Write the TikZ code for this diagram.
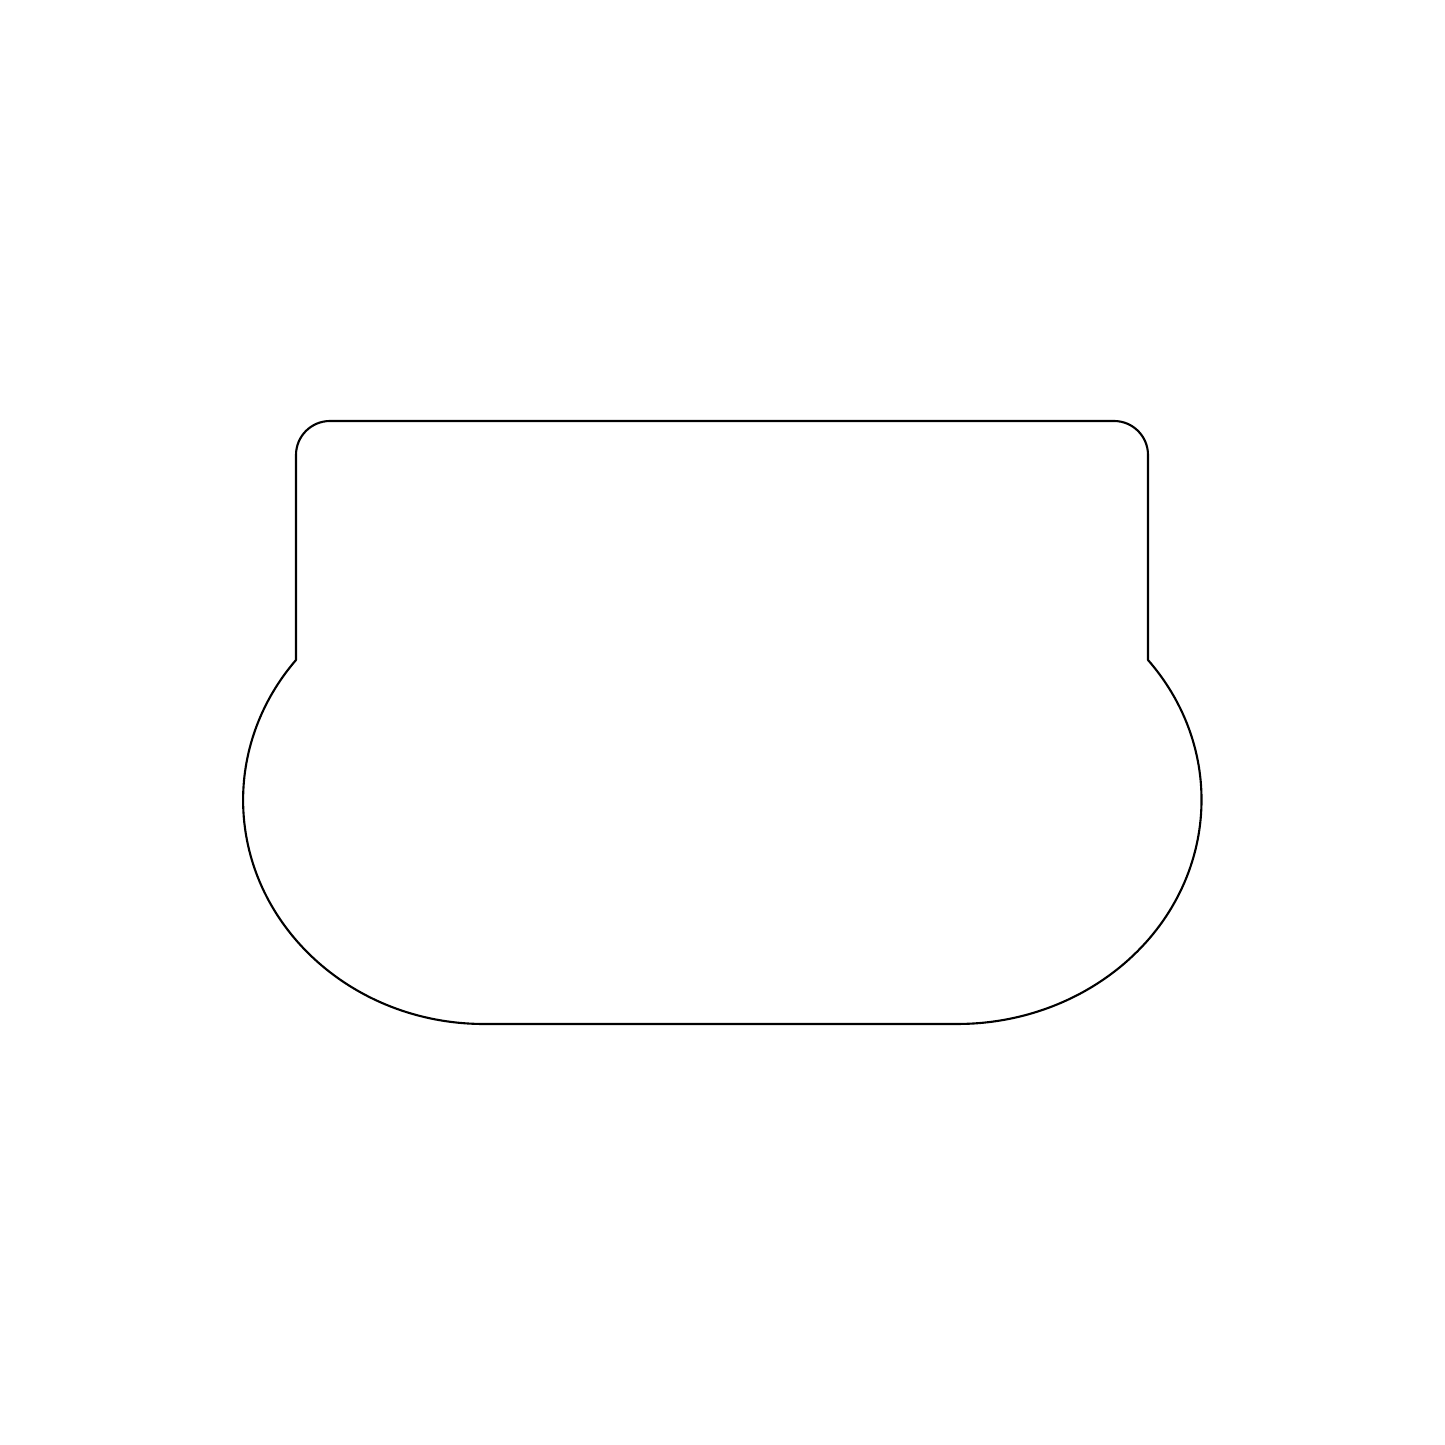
\documentclass[tikz,border=0pt]{standalone}
\begin{document}
\begin{tikzpicture}[x=0.01cm,y=0.01cm,outline/.style={draw=black,line width=0.6pt,line join=round}]
\useasboundingbox (0,0) rectangle (1445,1445);
% y measured upward: Y = 1445 - y_pixel
\coordinate (lj) at (296,785);
\coordinate (rj) at (1148,785);
\draw[outline] (lj) -- (296,990) arc[start angle=180,end angle=90,radius=34]
  -- (1114,1024) arc[start angle=90,end angle=0,radius=34]
  -- (rj)
  arc[start angle=38.68,end angle=-90,x radius=244,y radius=224]
  -- (484.1,421)
  arc[start angle=270,end angle=141.32,x radius=241,y radius=224]
  -- cycle;
\end{tikzpicture}
\end{document}
